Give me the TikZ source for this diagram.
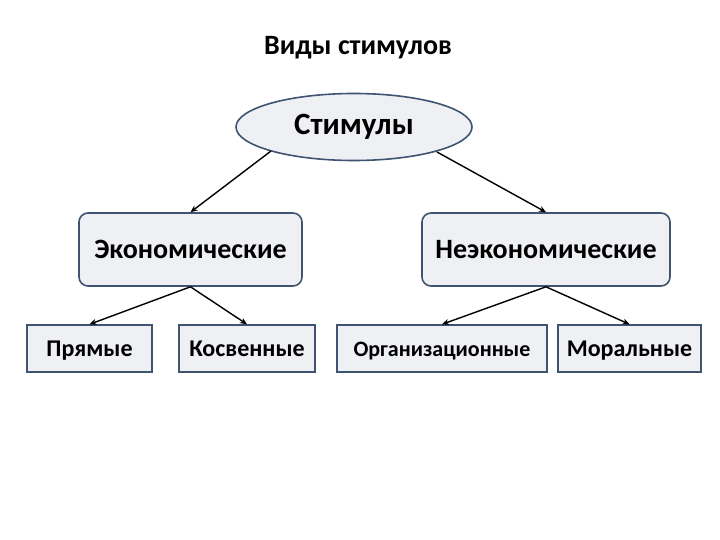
\documentclass[tikz,border=0pt]{standalone}
\usepackage{fontspec}
\setmainfont{Carlito}
\usetikzlibrary{shapes.geometric,arrows.meta}
\definecolor{boxfill}{HTML}{EFF0F4}
\definecolor{boxline}{HTML}{3F5372}
\tikzset{
  ell/.style={ellipse,draw=boxline,fill=boxfill,line width=1.6pt,minimum width=236pt,minimum height=67pt,inner sep=0pt,font=\bfseries\fontsize{31}{33}\selectfont},
  midbox/.style={rectangle,rounded corners=9pt,draw=boxline,fill=boxfill,line width=1.6pt,inner sep=0pt,font=\bfseries\fontsize{28}{30}\selectfont},
  lowbox/.style={rectangle,draw=boxline,fill=boxfill,line width=1.4pt,inner sep=0pt,text height=17pt,text depth=1pt,font=\bfseries\fontsize{24}{26}\selectfont},
  arr/.style={-{Stealth[length=7pt,width=6pt]},line width=1.4pt,black},
  ttl/.style={font=\bfseries\fontsize{28}{30}\selectfont}
}
\begin{document}
\begin{tikzpicture}[x=1pt,y=-1pt]
\useasboundingbox (0,0) rectangle (720,540);
\node[ttl] (title) at (358,48) {Виды стимулов};
\node[ell] (stim) at (354,127) {Стимулы};
\node[midbox,minimum width=223pt,minimum height=73pt] (econ) at (190.5,249.5) {Экономические};
\node[midbox,minimum width=248pt,minimum height=73pt] (nonecon) at (546,249.5) {Неэкономические};
\node[lowbox,minimum width=125pt,minimum height=47pt] (pr) at (89.5,348.5) {Прямые};
\node[lowbox,minimum width=136pt,minimum height=47pt] (kos) at (247,348.5) {Косвенные};
\node[lowbox,minimum width=210pt,minimum height=47pt,font=\bfseries\fontsize{22}{24}\selectfont] (org) at (442,348.5) {Организационные};
\node[lowbox,minimum width=143pt,minimum height=47pt] (mor) at (629.5,348.5) {Моральные};
\coordinate (s1) at (271,151);
\coordinate (s2) at (437,152);
\draw[arr] (s1) -- (econ.north);
\draw[arr] (s2) -- (nonecon.north);
\draw[arr] (econ.south) -- (pr.north);
\draw[arr] (econ.south) -- (kos.north);
\draw[arr] (nonecon.south) -- (org.north);
\draw[arr] (nonecon.south) -- (mor.north);
\end{tikzpicture}
\end{document}
